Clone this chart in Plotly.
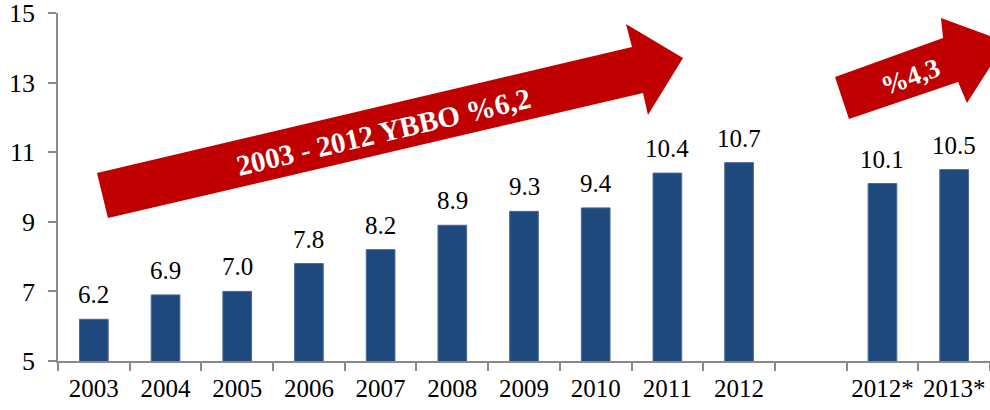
import plotly.graph_objects as go

years = ['2003', '2004', '2005', '2006', '2007', '2008', '2009', '2010', '2011', '2012', ' ', '2012*', '2013*']
values = [6.2, 6.9, 7.0, 7.8, 8.2, 8.9, 9.3, 9.4, 10.4, 10.7, None, 10.1, 10.5]
labels = ['6.2', '6.9', '7.0', '7.8', '8.2', '8.9', '9.3', '9.4', '10.4', '10.7', '', '10.1', '10.5']
y_ticks = [5, 7, 9, 11, 13, 15]

W, H = 990, 410
L, R, T, B = 58, 0, 13, 49
FONT = 'Liberation Serif, Times New Roman, serif'
BAR = '#1F497D'
RED = '#C00000'
AXIS = '#898989'


def px2paper(pts):
    # pixel points -> paper coords of the plot area
    pw, ph = W - L - R, H - T - B
    return [((x - L) / pw, (H - B - y) / ph) for x, y in pts]


def path_of(pts):
    p = px2paper(pts)
    return 'M ' + ' L '.join(f'{x:.4f},{y:.4f}' for x, y in p) + ' Z'


big_arrow = [(97, 173), (632, 47), (626, 24), (683, 58), (648, 115), (643, 93), (108, 218)]
small_arrow = [(835, 77), (943, 38), (941, 18), (1006, 42), (967, 103), (958, 82), (849, 119)]

fig = go.Figure()
fig.add_trace(go.Bar(
    x=list(range(len(years))), y=values, width=0.4,
    marker=dict(color=BAR, line=dict(color='#4A6A96', width=1)),
    hoverinfo='skip', showlegend=False,
))

# value labels above the bars (positioned by category index)
for i, (v, t) in enumerate(zip(values, labels)):
    if v is None:
        continue
    fig.add_annotation(x=i, y=v, text=t, showarrow=False, yanchor='bottom', yshift=9,
                       font=dict(family=FONT, size=25, color='#000000'))

fig.add_shape(type='path', path=path_of(big_arrow), xref='paper', yref='paper',
              fillcolor=RED, line=dict(width=0), layer='above')
fig.add_shape(type='path', path=path_of(small_arrow), xref='paper', yref='paper',
              fillcolor=RED, line=dict(width=0), layer='above')

(bx, by), = px2paper([(383, 132)])
fig.add_annotation(x=bx, y=by, xref='paper', yref='paper', text='<b>2003 - 2012 YBBO %6,2</b>',
                   showarrow=False, textangle=-13.2, xanchor='center', yanchor='middle',
                   font=dict(family=FONT, size=29, color='white'))
(sx, sy), = px2paper([(910, 77)])
fig.add_annotation(x=sx, y=sy, xref='paper', yref='paper', text='<b>%4,3</b>',
                   showarrow=False, textangle=-20, xanchor='center', yanchor='middle',
                   font=dict(family=FONT, size=27, color='white'))

fig.update_layout(
    width=W, height=H,
    margin=dict(l=L, r=R, t=T, b=B),
    paper_bgcolor='white', plot_bgcolor='white',
    font=dict(family=FONT, size=25, color='#000000'),
)
fig.update_xaxes(tickmode='array', tickvals=list(range(len(years))), ticktext=years,
                 range=[-0.5, len(years) - 0.5], showgrid=False, showline=True,
                 linecolor=AXIS, linewidth=1.5, ticks='', tickangle=0, automargin=False,
                 ticklabeloverflow='allow', ticklabelstandoff=4,
                 tickfont=dict(family=FONT, size=25, color='#000000'))
# boundary tick marks between categories
fig.update_xaxes(minor=dict(tickmode='array', tickvals=[i - 0.5 for i in range(len(years) + 1)],
                            ticks='outside', ticklen=8, tickcolor=AXIS, tickwidth=1.5, showgrid=False))
fig.update_yaxes(range=[5, 15], tickvals=y_ticks, showgrid=False, zeroline=False,
                 showline=True, linecolor=AXIS, linewidth=1.5, ticks='outside',
                 ticklen=8, tickcolor=AXIS, tickwidth=1.5, ticklabelstandoff=8,
                 automargin=False, ticklabeloverflow='allow',
                 tickfont=dict(family=FONT, size=26, color='#000000'))

fig.write_html('out.html', config={'displayModeBar': False},
               post_script="document.body.style.margin='0';")
